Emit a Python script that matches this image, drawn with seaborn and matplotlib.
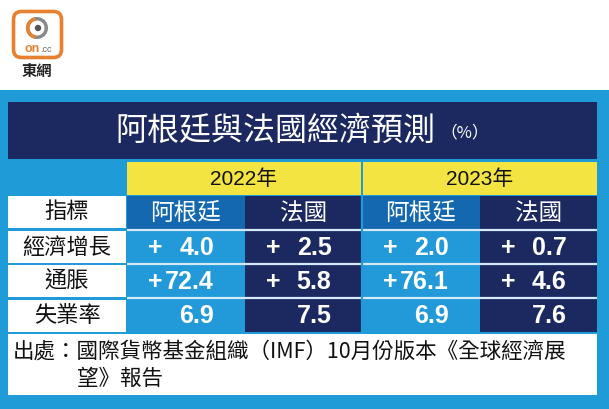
import matplotlib
matplotlib.use("Agg")
import matplotlib.pyplot as plt
from matplotlib.patches import Rectangle, FancyBboxPatch, Circle, Wedge
from matplotlib.colors import ListedColormap
import numpy as np
import seaborn as sns

# ---------------- data ----------------
title = "阿根廷與法國經濟預測"
unit = "（%）"
years = ["2022年", "2023年"]
countries = ["阿根廷", "法國"]
header_label = "指標"
indicators = ["經濟增長", "通脹", "失業率"]
argentina_2022 = [4.0, 72.4, 6.9]
france_2022 = [2.5, 5.8, 7.5]
argentina_2023 = [2.0, 76.1, 6.9]
france_2023 = [0.7, 4.6, 7.6]
signed = [True, True, False]
source_line1 = "出處：國際貨幣基金組織（IMF）10月份版本《全球經濟展"
source_line2 = "望》報告"
logo_text = "東網"

# ---------------- style ----------------
sns.set_theme(style="white")
plt.rcParams["font.family"] = ["Noto Sans CJK TC", "DejaVu Sans"]
CJK = ["Noto Sans CJK TC", "DejaVu Sans"]
NUM = ["Liberation Sans", "Noto Sans CJK TC"]

BLUE = "#1f9bd7"
NAVY = "#1c2961"
YELLOW = "#f3e441"
ARG_HEAD = "#1368b0"
ARG_CELL = "#2299d9"
SEP = "#d4eaf6"
ORANGE = "#e8812f"

W, H = 609, 409
fig = plt.figure(figsize=(W / 100, H / 100), dpi=100)
ax = fig.add_axes([0, 0, 1, 1])
ax.set_xlim(0, W)
ax.set_ylim(H, 0)
ax.axis("off")

# background
ax.add_patch(Rectangle((0, 90), W, H - 90, color=BLUE, lw=0))

# logo
ax.add_patch(FancyBboxPatch((13.5, 11.5), 48, 46, boxstyle="round,pad=0,rounding_size=8",
                            facecolor="white", edgecolor=ORANGE, lw=2.6))
ax.add_patch(Wedge((37, 28), 11, 0, 360, width=3.5, color="#8a8a8a", lw=0))
ax.add_patch(Wedge((37, 28), 11, 100, 260, width=3.5, color=ORANGE, lw=0))
ax.add_patch(Circle((38, 28), 3.2, color="#555555", lw=0))
ax.text(32, 49, "on", ha="center", va="center", fontsize=9, fontweight="bold",
        color=ORANGE, family=NUM)
ax.text(46, 49.5, ".cc", ha="center", va="center", fontsize=6.5, color="#666666", family=NUM)
ax.text(37, 71, logo_text, ha="center", va="center", fontsize=11, color="#222222",
        fontweight="bold", family=CJK)

# title box
ax.add_patch(Rectangle((8, 102), 589, 57, color=NAVY, lw=0))
ax.text(115, 131, title, ha="left", va="center", fontsize=23, color="white", family=CJK)
ax.text(440, 133, unit, ha="left", va="center", fontsize=12, color="white", family=CJK)

# year headers
for k, yr in enumerate(years):
    x0 = 127 if k == 0 else 363
    x1 = 361 if k == 0 else 597
    ax.add_patch(Rectangle((x0, 162), x1 - x0, 33, color=YELLOW, lw=0))
    ax.text((x0 + x1) / 2, 179, yr, ha="center", va="center", fontsize=15,
            color="#111111", family=NUM)

# label column
row_tops = [196, 231, 265, 300]
row_bots = [228, 263, 297, 332]
labels = [header_label] + indicators
for lab, t, b in zip(labels, row_tops, row_bots):
    ax.add_patch(Rectangle((8, t), 118, b - t, color="white", lw=0))
    ax.text(67, (t + b) / 2, lab, ha="center", va="center", fontsize=16,
            color="#111111", family=CJK)

# data block via seaborn heatmap
values = np.array([argentina_2022, france_2022, argentina_2023, france_2023]).T
col_kind = np.array([0, 1, 0, 1])
codes = np.vstack([np.where(col_kind == 0, 0, 1), np.tile(np.where(col_kind == 0, 2, 1), (3, 1))])
hx0, hx1, hy0, hy1 = 127, 597, 196, 332
hax = fig.add_axes([hx0 / W, 1 - hy1 / H, (hx1 - hx0) / W, (hy1 - hy0) / H])
sns.heatmap(codes, ax=hax, cmap=ListedColormap([ARG_HEAD, NAVY, ARG_CELL]), vmin=-0.5, vmax=2.5,
            cbar=False, xticklabels=False, yticklabels=False, linewidths=0)
hax.set_xlabel("")
hax.set_ylabel("")
for y in [1, 2, 3]:
    hax.axhline(y, color=SEP, lw=1.6)
hax.axvline(2, color=BLUE, lw=1.6)

header_names = countries * 2
for j, name in enumerate(header_names):
    hax.text(j + 0.5, 0.5, name, ha="center", va="center", fontsize=17, color="white", family=CJK)

for i in range(values.shape[0]):
    for j in range(values.shape[1]):
        if signed[i]:
            hax.text(j + 0.18, i + 1.52, "+", ha="left", va="center", fontsize=18,
                     fontweight="bold", color="white", family=NUM)
        hax.text(j + 1 - 0.26, i + 1.52, f"{values[i, j]:.1f}", ha="right", va="center",
                 fontsize=18, fontweight="bold", color="white", family=NUM)

# source box
ax.add_patch(Rectangle((8, 334), 589, 61, color="white", lw=0))
ax.text(13, 352, source_line1, ha="left", va="center", fontsize=15.5, color="#111111", family=CJK)
ax.text(77, 379, source_line2, ha="left", va="center", fontsize=15.5, color="#111111", family=CJK)

fig.savefig("out.png", dpi=100)
